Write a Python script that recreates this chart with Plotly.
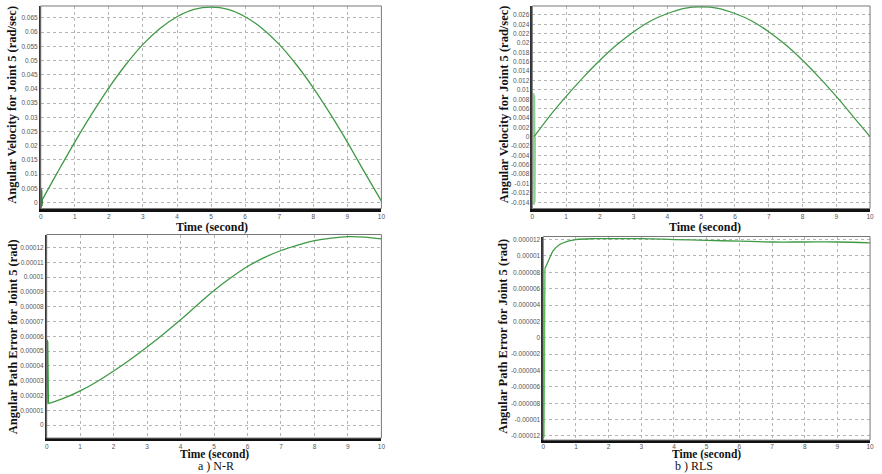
import plotly.graph_objects as go

W, H = 882, 474

# ---------------- data ----------------
t_main = [0, 0.5, 1, 1.5, 2, 2.5, 3, 3.5, 4, 4.5, 5, 5.5, 6, 6.5, 7, 7.5, 8, 8.5, 9, 9.5, 10]

# a) N-R : angular velocity (rad/sec)
nr_vel = [0.0, 0.0108, 0.0213, 0.0312, 0.0404, 0.0486, 0.0557, 0.0613, 0.0654, 0.0680, 0.0688,
          0.0680, 0.0654, 0.0613, 0.0557, 0.0486, 0.0404, 0.0312, 0.0213, 0.0108, 0.0005]
nr_vel_spike_t = [0.0, 0.01, 0.02, 0.03, 0.04, 0.05]
nr_vel_spike_v = [0.0, 0.0052, -0.0018, 0.0045, -0.0012, 0.0008]

# b) RLS : angular velocity (rad/sec)
rls_vel_t = [0.05, 0.5, 1, 1.5, 2, 2.5, 3, 3.5, 4, 4.5, 5, 5.5, 6, 6.5, 7, 7.5, 8, 8.5, 9, 9.5, 10]
rls_vel = [0.0, 0.0043, 0.0086, 0.0126, 0.0163, 0.0196, 0.0224, 0.0247, 0.0263, 0.0274, 0.0277,
           0.0274, 0.0263, 0.0247, 0.0224, 0.0196, 0.0163, 0.0126, 0.0086, 0.0043, 0.0]
rls_vel_spike_t = [0.03, 0.04, 0.05, 0.06, 0.07, 0.08]
rls_vel_spike_v = [0.0, 0.0093, -0.0145, 0.0088, -0.0140, 0.0]

# a) N-R : angular path error (rad)
nr_err_t = [0.05, 0.5, 1, 1.5, 2, 2.5, 3, 3.5, 4, 4.5, 5, 5.5, 6, 6.5, 7, 7.5, 8, 8.5, 9, 9.5, 10]
nr_err = [0.0000145, 0.0000180, 0.0000231, 0.0000293, 0.0000365, 0.0000443, 0.0000527, 0.0000617,
          0.0000711, 0.0000812, 0.0000910, 0.0000996, 0.0001072, 0.0001132, 0.0001180, 0.0001217,
          0.0001247, 0.0001264, 0.0001274, 0.0001271, 0.0001259]
nr_err_spike_t = [0.0, 0.01, 0.02, 0.03, 0.05]
nr_err_spike_v = [0.0000140, 0.0000575, 0.0000150, 0.0000560, 0.0000145]

# b) RLS : angular path error (rad)
rls_err_t = [0.05, 0.1, 0.2, 0.3, 0.5, 0.75, 1, 1.5, 2, 3, 4, 5, 6, 7, 8, 9, 10]
rls_err = [0.0000085, 0.0000089, 0.0000098, 0.0000106, 0.0000114, 0.0000118, 0.0000120, 0.0000121,
           0.0000121, 0.0000121, 0.0000120, 0.0000119, 0.0000118, 0.0000117, 0.0000117, 0.0000117,
           0.0000116]
rls_err_spike_t = [0.02, 0.03, 0.04, 0.05]
rls_err_spike_v = [-0.0000122, 0.0000085, -0.0000030, 0.0000085]

# tick labels
x_ticks = [0, 1, 2, 3, 4, 5, 6, 7, 8, 9, 10]
x_tick_text = ["0", "1", "2", "3", "4", "5", "6", "7", "8", "9", "10"]

y1_ticks = [0, 0.005, 0.01, 0.015, 0.02, 0.025, 0.03, 0.035, 0.04, 0.045, 0.05, 0.055, 0.06, 0.065]
y1_text = ["0", "0.005", "0.01", "0.015", "0.02", "0.025", "0.03", "0.035", "0.04", "0.045",
           "0.05", "0.055", "0.06", "0.065"]

y2_ticks = [-0.014, -0.012, -0.01, -0.008, -0.006, -0.004, -0.002, 0, 0.002, 0.004, 0.006, 0.008,
            0.01, 0.012, 0.014, 0.016, 0.018, 0.02, 0.022, 0.024, 0.026]
y2_text = ["-0.014", "-0.012", "-0.01", "-0.008", "-0.006", "-0.004", "-0.002", "0", "0.002",
           "0.004", "0.006", "0.008", "0.01", "0.012", "0.014", "0.016", "0.018", "0.02", "0.022",
           "0.024", "0.026"]

y3_ticks = [0, 0.00001, 0.00002, 0.00003, 0.00004, 0.00005, 0.00006, 0.00007, 0.00008, 0.00009,
            0.0001, 0.00011, 0.00012]
y3_text = ["0", "0.00001", "0.00002", "0.00003", "0.00004", "0.00005", "0.00006", "0.00007",
           "0.00008", "0.00009", "0.0001", "0.00011", "0.00012"]

y4_ticks = [-0.000012, -0.00001, -0.000008, -0.000006, -0.000004, -0.000002, 0, 0.000002,
            0.000004, 0.000006, 0.000008, 0.00001, 0.000012]
y4_text = ["-0.000012", "-0.00001", "-0.000008", "-0.000006", "-0.000004", "-0.000002", "0",
           "0.000002", "0.000004", "0.000006", "0.000008", "0.00001", "0.000012"]

x_title = "Time (second)"
vel_title = "Angular Velocity for Joint 5 (rad/sec)"
err_title = "Angular Path Error for Joint 5 (rad)"
cap_a = "a ) N-R"
cap_b = "b ) RLS"

# ---------------- figure ----------------
GREEN = "#3f9a45"
LIGHT = "#8fcf8f"

fig = go.Figure()

def add(x, y, ax, color=GREEN, width=1.3, shape="spline", opacity=1.0):
    fig.add_trace(go.Scatter(x=x, y=y, mode="lines", xaxis="x" + ax, yaxis="y" + ax,
                             line=dict(color=color, width=width, shape=shape),
                             opacity=opacity, showlegend=False, hoverinfo="skip"))

add(t_main, nr_vel, "")
add(nr_vel_spike_t, nr_vel_spike_v, "", color="#2f7d35", width=1.2, shape="linear")
add(rls_vel_spike_t, rls_vel_spike_v, "2", color=LIGHT, width=1.8, shape="linear")
add(rls_vel_t, rls_vel, "2")
add(nr_err_spike_t, nr_err_spike_v, "3", color="#2f9a35", width=1.4, shape="linear")
add(nr_err_t, nr_err, "3")
add(rls_err_spike_t, rls_err_spike_v, "4", color="#5cbf5c", width=1.4, shape="linear")
add(rls_err_t, rls_err, "4")


def px_dom_x(a, b):
    return [a / W, b / W]


def px_dom_y(top, bottom):
    return [1 - bottom / H, 1 - top / H]


tickfont = dict(family="Liberation Sans, Arial, sans-serif", size=6.5, color="#555555")

def xaxis(dom, anchor, standoff=0):
    return dict(domain=dom, anchor=anchor, range=[0, 10], tickmode="array", tickvals=x_ticks,
                ticktext=x_tick_text, tickfont=tickfont, showgrid=True, gridcolor="#b5b5b5",
                griddash="dot", gridwidth=1, showline=True, linecolor="#111111", linewidth=2.5,
                ticks="", zeroline=False, fixedrange=True, ticklabelstandoff=standoff)

def yaxis(dom, anchor, rng, tv, tt):
    return dict(domain=dom, anchor=anchor, range=rng, tickmode="array", tickvals=tv, ticktext=tt,
                tickfont=tickfont, showgrid=True, gridcolor="#b5b5b5", griddash="dot", gridwidth=1,
                showline=True, linecolor="#333333", linewidth=1.5, ticks="", zeroline=False,
                fixedrange=True)

fig.update_layout(
    width=W, height=H, margin=dict(l=0, r=0, t=0, b=0),
    paper_bgcolor="white", plot_bgcolor="white",
    xaxis=xaxis(px_dom_x(39, 382), "y"),
    yaxis=yaxis(px_dom_y(5, 208), "x", [-0.0021, 0.0692], y1_ticks, y1_text),
    xaxis2=xaxis(px_dom_x(534, 874), "y2"),
    yaxis2=yaxis(px_dom_y(5, 208), "x2", [-0.01534, 0.0279], y2_ticks, y2_text),
    xaxis3=xaxis(px_dom_x(45, 382), "y3"),
    yaxis3=yaxis(px_dom_y(234, 438), "x3", [-0.0000088, 0.0001288], y3_ticks, y3_text),
    xaxis4=xaxis(px_dom_x(545, 874), "y4", -2),
    yaxis4=yaxis(px_dom_y(236, 440), "x4", [-0.0000125, 0.00001237], y4_ticks, y4_text),
)

# thin frame around each plot area
for ax in ["", "2", "3", "4"]:
    fig.add_shape(type="rect", xref="x" + ax + " domain", yref="y" + ax + " domain",
                  x0=0, x1=1, y0=0, y1=1, line=dict(color="#777777", width=1), layer="above")

titlefont = dict(family="Liberation Serif, Times New Roman, serif", size=12.5, color="#111111")
xtitlefont = dict(family="Liberation Serif, Times New Roman, serif", size=12, color="#111111")
xtitlefont_b = dict(family="Liberation Serif, Times New Roman, serif", size=11.5, color="#111111")

def ann(text, x, y, rot=0, font=titlefont, yanchor="middle"):
    fig.add_annotation(text=text, xref="paper", yref="paper", x=x / W, y=1 - y / H,
                       xanchor="center", yanchor=yanchor, showarrow=False, textangle=rot,
                       font=font, borderpad=0)

ann("<b>%s</b>" % x_title, 211, 226, 0, xtitlefont)
ann("<b>%s</b>" % x_title, 708, 226, 0, xtitlefont)
ann("<b>%s</b>" % x_title, 214, 454.5, 0, xtitlefont_b)
ann("<b>%s</b>" % x_title, 709, 454.5, 0, xtitlefont_b)
ann("<b>%s</b>" % vel_title, 10, 104, -90)
ann("<b>%s</b>" % vel_title, 505, 104, -90)
ann("<b>%s</b>" % err_title, 11, 336, -90)
ann("<b>%s</b>" % err_title, 505, 336, -90)

capfont = dict(family="Liberation Serif, Times New Roman, serif", size=12, color="#111111")
ann(cap_a, 215, 474, 0, capfont, "bottom")
ann(cap_b, 697, 474, 0, capfont, "bottom")

fig.write_html("out.html")
